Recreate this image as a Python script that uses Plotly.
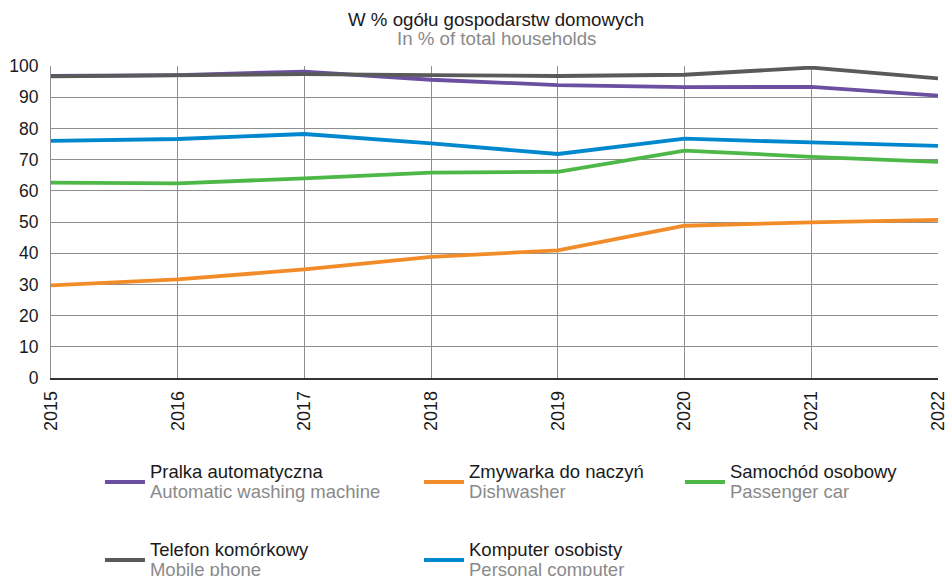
import plotly.graph_objects as go

years = [2015, 2016, 2017, 2018, 2019, 2020, 2021, 2022]
washing = [96.8, 97.1, 98.2, 95.6, 93.9, 93.2, 93.3, 90.5]
dishwasher = [29.7, 31.6, 34.8, 38.8, 40.9, 48.8, 49.9, 50.7]
car = [62.6, 62.4, 64.0, 65.8, 66.1, 72.9, 70.9, 69.3]
mobile = [96.7, 96.9, 97.4, 97.1, 96.8, 97.2, 99.5, 96.0]
pc = [76.0, 76.6, 78.2, 75.2, 71.8, 76.7, 75.5, 74.4]

names_pl = ["Pralka automatyczna", "Zmywarka do naczyń", "Samochód osobowy",
            "Telefon komórkowy", "Komputer osobisty"]
names_en = ["Automatic washing machine", "Dishwasher", "Passenger car",
            "Mobile phone", "Personal computer"]
series = [washing, dishwasher, car, mobile, pc]
colors = ["#6B4FA0", "#F28C28", "#4DB848", "#5A5A5A", "#0088CE"]
legend_ids = ["legend", "legend2", "legend3", "legend", "legend2"]

FONT = "Liberation Sans"
SUBC = "#8a8a8a"
TXT = "#1a1a1a"

fig = go.Figure()
for i in range(5):
    fig.add_trace(go.Scatter(
        x=years, y=series[i], mode="lines",
        line=dict(color=colors[i], width=3.8),
        name=(f"<span style='font-size:18.5px'>{names_pl[i]}</span><br>"
              f"<span style='font-size:18.5px;color:{SUBC}'>{names_en[i]}</span>"),
        legend=legend_ids[i], legendgroup=f"g{i}",
    ))

leg_common = dict(font=dict(family=FONT, size=15, color=TXT),
                  yanchor="top", xanchor="left", y=-0.25,
                  itemwidth=40, tracegroupgap=36, bgcolor="rgba(0,0,0,0)")

fig.update_layout(
    width=946, height=576,
    margin=dict(l=51, r=8, t=66, b=198, autoexpand=False),
    paper_bgcolor="white", plot_bgcolor="white",
    font=dict(family=FONT, size=18, color=TXT),
    showlegend=True,
    legend=dict(x=0.0552, **leg_common),
    legend2=dict(x=0.4149, **leg_common),
    legend3=dict(x=0.7091, **leg_common),
    xaxis=dict(range=[2015, 2022], tickmode="array", tickvals=years,
               ticktext=[str(y) for y in years], tickangle=-90,
               ticklabeloverflow="allow", ticklabelstandoff=4,
               showgrid=True, gridcolor="#8f8f8f", gridwidth=1,
               showline=True, linecolor="#333333", linewidth=1.5,
               mirror=False, ticks="", zeroline=False,
               tickfont=dict(family=FONT, size=18, color=TXT)),
    yaxis=dict(range=[0, 100], tickvals=list(range(0, 101, 10)),
               ticklabelstandoff=8,
               showgrid=True, gridcolor="#8f8f8f", gridwidth=1,
               showline=True, linecolor="#8f8f8f", linewidth=1,
               ticks="", zeroline=False,
               tickfont=dict(family=FONT, size=17.5, color=TXT)),
)

fig.add_annotation(text="W % ogółu gospodarstw domowych", xref="paper", yref="paper",
                   x=0.502, y=1, yanchor="middle", yshift=47, showarrow=False,
                   font=dict(family=FONT, size=18.7, color=TXT))
fig.add_annotation(text="In % of total households", xref="paper", yref="paper",
                   x=0.502, y=1, yanchor="middle", yshift=28, showarrow=False,
                   font=dict(family=FONT, size=18.7, color=SUBC))

fig.write_html("out.html", config={"displayModeBar": False},
               post_script="document.body.style.margin='0';")
